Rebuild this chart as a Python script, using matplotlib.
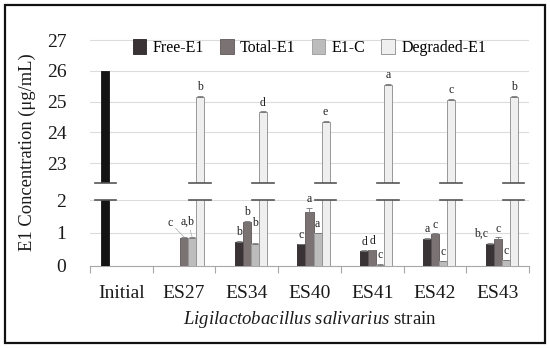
import matplotlib
matplotlib.use("Agg")
import matplotlib.pyplot as plt
from matplotlib.patches import Rectangle
import numpy as np

# --- data ---
strains = ['Initial', 'ES27', 'ES34', 'ES40', 'ES41', 'ES42', 'ES43']
nan = np.nan
initial = [26.0, nan, nan, nan, nan, nan, nan]
free = [nan, nan, 0.71, 0.65, 0.44, 0.81, 0.66]
total = [nan, 0.85, 1.34, 1.63, 0.46, 0.95, 0.82]
e1c = [nan, 0.85, 0.65, 0.98, 0.03, 0.13, 0.17]
degraded = [nan, 25.16, 24.65, 24.34, 25.54, 25.05, 25.16]

free_err = [0, 0, 0.03, 0.02, 0.02, 0.03, 0.03]
total_err = [0, 0.02, 0.03, 0.14, 0.02, 0.03, 0.04]
e1c_err = [0, 0.02, 0.03, 0.02, 0.01, 0.01, 0.01]
deg_err = [0, 0.03, 0.03, 0.03, 0.03, 0.03, 0.03]

free_lbl = ['', '', 'b', 'c', 'd', 'a', 'b,c']
total_lbl = ['', 'c', 'b', 'a', 'd', 'c', 'c']
e1c_lbl = ['', 'a,b', 'b', 'a', 'c', 'c', 'c']
deg_lbl = ['', 'b', 'd', 'e', 'a', 'c', 'b']

# --- style ---
serif = 'Liberation Serif'
plt.rcParams['font.family'] = serif
plt.rcParams['mathtext.fontset'] = 'custom'
plt.rcParams['mathtext.rm'] = serif
plt.rcParams['mathtext.it'] = serif + ':italic'
c_init, c_free, c_total, c_e1c, c_deg = '#141414', '#3a3335', '#7b7274', '#bcbcbc', '#efefef'
grid_c = '#dcdcdc'

W, H = 550, 348
fig = plt.figure(figsize=(5.5, 3.48), dpi=100)
left, right = 90 / W, 529 / W
ax_top = fig.add_axes([left, 1 - 183 / H, right - left, (183 - 30) / H])
ax_bot = fig.add_axes([left, 1 - 265.5 / H, right - left, (265.5 - 200) / H])

x = np.arange(len(strains))
w = 8 / 62.7
series = [
    (initial, None, c_init, '#141414', None, -2),
    (free, free_err, c_free, '#2a2426', 'Free-E1', -1),
    (total, total_err, c_total, '#5e5658', 'Total-E1', 0),
    (e1c, e1c_err, c_e1c, '#9a9a9a', 'E1-C', 1),
    (degraded, deg_err, c_deg, '#8a8a8a', 'Degraded-E1', 2),
]

for ax in (ax_top, ax_bot):
    for vals, err, fc, ec, lab, k in series:
        ax.bar(x + k * w, vals, width=w, color=fc, edgecolor=ec, linewidth=0.6,
               label=lab, zorder=3)
        if err is not None:
            ax.errorbar(x + k * w, vals, yerr=[np.zeros(len(vals)), err], fmt='none',
                        ecolor='#777777', elinewidth=0.6, capsize=2, capthick=0.6, zorder=4)
    ax.set_xlim(-0.5, len(strains) - 0.5)
    for s in ax.spines.values():
        s.set_visible(False)
    ax.grid(axis='y', color=grid_c, linewidth=0.8, zorder=0)
    ax.tick_params(axis='y', length=0, pad=17, labelsize=14, labelcolor='#1a1a1a')

ax_top.set_ylim(22.35, 27.33)
ax_top.set_yticks([23, 24, 25, 26, 27])
ax_top.set_xticks([])

ax_bot.set_ylim(0, 2)
ax_bot.set_yticks([0, 1, 2])
ax_bot.spines['bottom'].set_visible(True)
ax_bot.spines['bottom'].set_color('#a8a8a8')
ax_bot.set_xticks(x)
ax_bot.set_xticklabels(strains)
ax_bot.set_xticks(np.arange(len(strains) + 1) - 0.5, minor=True)
ax_bot.tick_params(axis='x', which='major', length=0, pad=14, labelsize=14, labelcolor='#1a1a1a')
ax_bot.tick_params(axis='x', which='minor', length=5, color='#a8a8a8', width=0.8)

# break marks on the bars that run through the gap
brk = [0 - 2 * w] + list(x[1:] + 2 * w)
for xc in brk:
    ax_top.plot([xc - 1.35 * w, xc + 1.35 * w], [22.35, 22.35], color='#555555', lw=1.2,
                clip_on=False, zorder=5)
    ax_bot.plot([xc - 1.35 * w, xc + 1.35 * w], [2, 2], color='#555555', lw=1.2,
                clip_on=False, zorder=5)

# significance letters
def letters(ax, vals, err, lbls, k, special=None, leader=()):
    for i, t in enumerate(lbls):
        if not t:
            continue
        dx, dy = (special or {}).get(i, (0, 2))
        ax.annotate(t, (x[i] + k * w, vals[i] + err[i]), xytext=(dx, dy),
                    textcoords='offset points', ha='center', va='bottom', fontsize=8.5,
                    color='#222222', zorder=6,
                    arrowprops=dict(arrowstyle='-', color='#aaaaaa', lw=0.5,
                                    shrinkA=0, shrinkB=0) if i in leader else None)

letters(ax_bot, free, free_err, free_lbl, -1, special={6: (-6, 2)})
letters(ax_bot, total, total_err, total_lbl, 0, special={1: (-10, 6)}, leader=(1,))
letters(ax_bot, e1c, e1c_err, e1c_lbl, 1, special={1: (-3, 7), 2: (0, 10)}, leader=(1,))
letters(ax_top, degraded, deg_err, deg_lbl, 2)

# legend
handles, labels = ax_top.get_legend_handles_labels()
h = [hh for hh, ll in zip(handles, labels) if not ll.startswith('_')]
l = [ll for ll in labels if not ll.startswith('_')]
fig.legend(h, l, loc='center', bbox_to_anchor=(309.5 / W, 1 - 47.5 / H), ncol=4,
           frameon=False, fontsize=11.5, handlelength=0.85, handleheight=1.1,
           handletextpad=0.4, columnspacing=1.0, borderaxespad=0)

fig.text(27 / W, 1 - 152 / H, 'E1 Concentration (μg/mL)', rotation=90, ha='center',
         va='center', fontsize=13.3, color='#1a1a1a')
fig.text(309.5 / W, 1 - 320 / H, r'$\mathit{Ligilactobacillus\ salivarius}$ strain',
         ha='center', va='center', fontsize=13.5, color='#1a1a1a')

fig.patches.append(Rectangle((5 / W, 5 / H), 540 / W, 338 / H, transform=fig.transFigure,
                             fill=False, edgecolor='#111111', lw=1.6))

fig.savefig('out.png', dpi=100)
